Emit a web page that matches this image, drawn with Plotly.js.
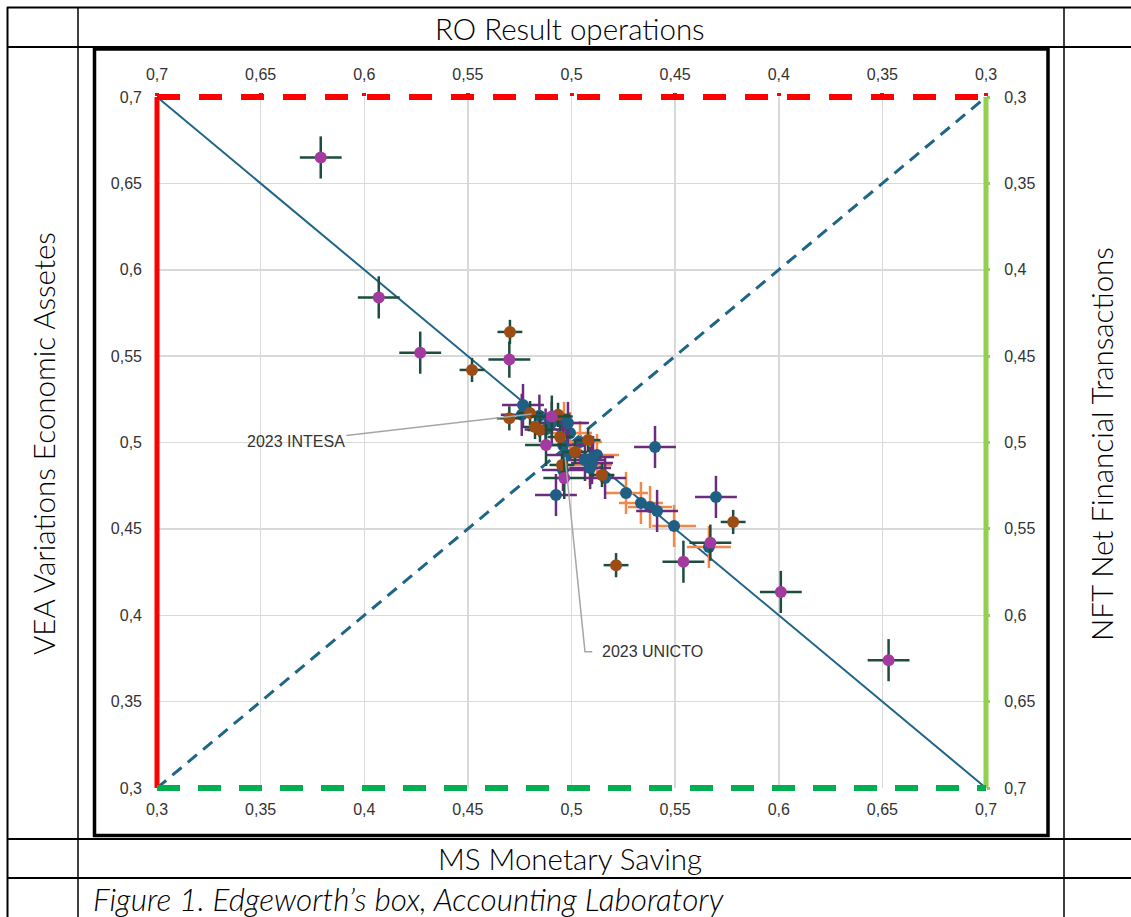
<!DOCTYPE html>
<html>
<head>
<meta charset="utf-8">
<script src="https://cdn.plot.ly/plotly-3.0.1.min.js"></script>
<style>
  html, body { margin: 0; padding: 0; background: #ffffff; }
  #chart { width: 1131px; height: 917px; }
</style>
</head>
<body>
<div id="chart"></div>
<script>
// ---------------- DATA ----------------
const axisMin = 0.3;
const axisMax = 0.7;
const tickStep = 0.05;

// Magenta markers, dark green error bars
const magX  = [0.379, 0.407, 0.427, 0.470, 0.567, 0.554, 0.601, 0.653, 0.4877, 0.4965, 0.4905];
const magY  = [0.665, 0.584, 0.552, 0.548, 0.442, 0.431, 0.4135, 0.374, 0.4986, 0.4795, 0.515];
const magEx = [0.0101, 0.0101, 0.0101, 0.0101, 0.0101, 0.0101, 0.0101, 0.0101, 0.0101, 0.0101, 0.0101];
const magEy = [0.0122, 0.0122, 0.0122, 0.0105, 0.0105, 0.0122, 0.0122, 0.0122, 0.0122, 0.0122, 0.0122];

// Brown markers, dark green error bars
const brnX  = [0.452, 0.4703, 0.470, 0.578, 0.5215, 0.480, 0.4824, 0.4935, 0.4848, 0.4945, 0.508, 0.4954, 0.5147, 0.5017];
const brnY  = [0.542, 0.564, 0.514, 0.454, 0.429, 0.517, 0.509, 0.516, 0.5072, 0.5032, 0.5014, 0.487, 0.4812, 0.4945];
const brnEx = [0.006, 0.006, 0.006, 0.006, 0.006, 0.006, 0.006, 0.006, 0.006, 0.006, 0.006, 0.006, 0.006, 0.006];
const brnEy = [0.007, 0.007, 0.007, 0.007, 0.007, 0.007, 0.007, 0.007, 0.007, 0.007, 0.007, 0.007, 0.007, 0.007];

// Blue markers, purple error bars
const bluX  = [0.4925, 0.5403, 0.5697, 0.4766, 0.476, 0.4983, 0.4959, 0.4978, 0.5065, 0.5099, 0.5162, 0.4959, 0.509, 0.5104, 0.5413, 0.4845, 0.4905, 0.4875];
const bluY  = [0.4696, 0.4974, 0.4685, 0.5217, 0.516, 0.5113, 0.4986, 0.4928, 0.4899, 0.4881, 0.4795, 0.4841, 0.4852, 0.4916, 0.4604, 0.5155, 0.5115, 0.5075];
const bluEx = [0.0101, 0.0101, 0.0101, 0.0101, 0.0101, 0.0101, 0.0101, 0.0101, 0.0101, 0.0101, 0.0101, 0.0101, 0.0101, 0.0101, 0.0101, 0.0101, 0.0101, 0.0101];
const bluEy = [0.0122, 0.0122, 0.0122, 0.0122, 0.0122, 0.0122, 0.0122, 0.0122, 0.0122, 0.0122, 0.0122, 0.0122, 0.0122, 0.0122, 0.0122, 0.0122, 0.0122, 0.0122];

// Blue markers, orange error bars
const orgX  = [0.5263, 0.5335, 0.5379, 0.5495, 0.5663, 0.4964, 0.4993, 0.5041, 0.5123, 0.5089];
const orgY  = [0.4708, 0.465, 0.4627, 0.4517, 0.4395, 0.5113, 0.5055, 0.5003, 0.4928, 0.487];
const orgEx = [0.0106, 0.0106, 0.0106, 0.0106, 0.0106, 0.0106, 0.0106, 0.0106, 0.0106, 0.0106];
const orgEy = [0.0122, 0.0122, 0.0122, 0.0122, 0.0122, 0.0122, 0.0122, 0.0122, 0.0122, 0.0122];

// Diagonals of the box
const diagDownX = [axisMin, axisMax];
const diagDownY = [axisMax, axisMin];
const diagUpX   = [axisMin, axisMax];
const diagUpY   = [axisMin, axisMax];

// Labelled points
const labelNames = ["2023 INTESA", "2023 UNICTO"];
const labelX = [0.4808, 0.4969];
const labelY = [0.5165, 0.4916];

// Texts
const titleTop    = "RO Result operations";
const titleBottom = "MS Monetary Saving";
const titleLeft   = "VEA Variations Economic Assetes";
const titleRight  = "NFT Net Financial Transactions";
const caption     = "Figure 1. Edgeworth’s box, Accounting Laboratory";

// ---------------- LAYOUT HELPERS ----------------
const W = 1131, H = 917;
const PL = 157, PR = 986, PT = 97, PB = 788;
const px = p => (p - PL) / (PR - PL);   // pixel -> paper x
const py = p => (PB - p) / (PB - PT);   // pixel -> paper y

const colMag = "#a23a9f", colBrn = "#9e4c16", colBlu = "#1f5f84";
const colGreenBar = "#1d4d3c", colPurpleBar = "#6c2c7e", colOrangeBar = "#f0894a";
const colDiag = "#1f6587";

function errTrace(x, y, ex, ey, mcol, ecol) {
  return {
    type: "scatter", mode: "markers", x: x, y: y,
    marker: { color: mcol, size: 12, line: { width: 0 } },
    error_x: { type: "data", array: ex, color: ecol, thickness: 2.5, width: 0 },
    error_y: { type: "data", array: ey, color: ecol, thickness: 2.5, width: 0 },
    hoverinfo: "x+y", showlegend: false
  };
}

const traces = [
  { type: "scatter", mode: "lines", x: diagDownX, y: diagDownY,
    line: { color: colDiag, width: 2 }, showlegend: false, hoverinfo: "skip" },
  { type: "scatter", mode: "lines", x: diagUpX, y: diagUpY,
    line: { color: colDiag, width: 3, dash: "12px,8px" }, showlegend: false, hoverinfo: "skip" },
  errTrace(orgX, orgY, orgEx, orgEy, colBlu, colOrangeBar),
  errTrace(bluX, bluY, bluEx, bluEy, colBlu, colPurpleBar),
  errTrace(brnX, brnY, brnEx, brnEy, colBrn, colGreenBar),
  errTrace(magX, magY, magEx, magEy, colMag, colGreenBar),
  // invisible trace to activate the top and right axes
  { type: "scatter", mode: "markers", x: [axisMin, axisMax], y: [axisMin, axisMax], xaxis: "x2", yaxis: "y2",
    marker: { opacity: 0 }, showlegend: false, hoverinfo: "skip" }
];

const tickFont = { family: "Liberation Sans, Arial, sans-serif", size: 16, color: "#333333" };

const commonAxis = {
  range: [axisMin, axisMax], tick0: axisMin, dtick: tickStep,
  tickfont: tickFont, zeroline: false, showline: false, fixedrange: true
};

const tableLine = { color: "#000000", width: 2 };
const shapes = [];
function hline(y, x0, x1, line) {
  shapes.push({ type: "line", xref: "paper", yref: "paper", x0: px(x0), x1: px(x1), y0: py(y), y1: py(y), line: line, layer: "above" });
}
function vline(x, y0, y1, line) {
  shapes.push({ type: "line", xref: "paper", yref: "paper", x0: px(x), x1: px(x), y0: py(y0), y1: py(y1), line: line, layer: "above" });
}

// Box border lines of the Edgeworth box
shapes.push({ type: "line", xref: "paper", yref: "paper", x0: 0, x1: 0, y0: 0, y1: 1, line: { color: "#ff0000", width: 5 }, layer: "above" });
shapes.push({ type: "line", xref: "paper", yref: "paper", x0: 0, x1: 1, y0: 1, y1: 1, line: { color: "#ff0000", width: 6, dash: "23px,19px" }, layer: "above" });
shapes.push({ type: "line", xref: "paper", yref: "paper", x0: 1, x1: 1, y0: 0, y1: 1, line: { color: "#92d050", width: 5 }, layer: "above" });
shapes.push({ type: "line", xref: "paper", yref: "paper", x0: 0, x1: 1, y0: 0, y1: 0, line: { color: "#00b050", width: 6, dash: "23px,18px" }, layer: "above" });

// Table grid
hline(7.5, 7, W, tableLine);
hline(47, 7, W, tableLine);
hline(839, 7, W, tableLine);
hline(878, 7, W, tableLine);
vline(7.5, 7, H, tableLine);
vline(78, 7, H, { color: "#000000", width: 1.5 });
vline(1064, 7, H, { color: "#000000", width: 1.5 });
// Chart frame
shapes.push({ type: "rect", xref: "paper", yref: "paper", x0: px(94.5), x1: px(1048), y0: py(49), y1: py(835.5),
  line: { color: "#000000", width: 3.5 }, fillcolor: "rgba(0,0,0,0)", layer: "above" });

// Leader line for UNICTO (elbow)
shapes.push({ type: "path", xref: "x", yref: "y",
  path: "M " + labelX[1] + "," + labelY[1] + " L 0.5065,0.3789 L 0.5100,0.3789",
  line: { color: "#a6a6a6", width: 1.5 }, layer: "above" });

const titleFont = { family: "Lato, Open Sans, sans-serif", size: 29.5, color: "#000000", weight: 300 };
const labelFont = { family: "Liberation Sans, Arial, sans-serif", size: 16, color: "#333333" };

const annotations = [
  { xref: "paper", yref: "paper", x: px(570), y: py(28), text: titleTop, showarrow: false, font: titleFont, xanchor: "center", yanchor: "middle" },
  { xref: "paper", yref: "paper", x: px(570), y: py(858), text: titleBottom, showarrow: false, font: titleFont, xanchor: "center", yanchor: "middle" },
  { xref: "paper", yref: "paper", x: px(43), y: py(444), text: titleLeft, showarrow: false, font: titleFont, textangle: -90, xanchor: "center", yanchor: "middle" },
  { xref: "paper", yref: "paper", x: px(1101), y: py(444), text: titleRight, showarrow: false, font: titleFont, textangle: -90, xanchor: "center", yanchor: "middle" },
  { xref: "paper", yref: "paper", x: px(91), y: py(899), text: caption, showarrow: false,
    font: { family: "Lato, Open Sans, sans-serif", size: 31.5, color: "#000000", style: "italic", weight: 300 }, xanchor: "left", yanchor: "middle" },
  { xref: "x", yref: "y", x: labelX[0], y: labelY[0], axref: "x", ayref: "y", ax: 0.367, ay: 0.5007,
    text: labelNames[0], font: labelFont, showarrow: true, arrowhead: 0, arrowwidth: 1.5, arrowcolor: "#a6a6a6", standoff: 0 },
  { xref: "x", yref: "y", x: 0.5138, y: 0.3789, text: labelNames[1], font: labelFont, showarrow: false, xanchor: "left", yanchor: "middle" }
];

const layout = {
  width: W, height: H,
  margin: { l: PL, r: W - PR, t: PT, b: H - PB, pad: 0 },
  paper_bgcolor: "#ffffff", plot_bgcolor: "#ffffff",
  separators: ",.",
  showlegend: false,
  xaxis: Object.assign({}, commonAxis, { side: "bottom", showgrid: true, gridcolor: "#d9d9d9", gridwidth: 1.5, ticks: "", ticklabelstandoff: 10 }),
  yaxis: Object.assign({}, commonAxis, { side: "left", showgrid: true, gridcolor: "#d9d9d9", gridwidth: 1.5, ticks: "", ticklabelstandoff: 14 }),
  xaxis2: Object.assign({}, commonAxis, { range: [axisMax, axisMin], overlaying: "x", side: "top", showgrid: false, anchor: "y",
    ticks: "outside", ticklen: 3, tickwidth: 4, tickcolor: "#ff0000", ticklabelstandoff: 7 }),
  yaxis2: Object.assign({}, commonAxis, { range: [axisMax, axisMin], overlaying: "y", side: "right", showgrid: false, anchor: "x",
    ticks: "outside", ticklen: 3, tickwidth: 3, tickcolor: "#92d050", ticklabelstandoff: 11 }),
  shapes: shapes,
  annotations: annotations
};

Plotly.newPlot("chart", traces, layout, { displayModeBar: false, staticPlot: true });
</script>
</body>
</html>
